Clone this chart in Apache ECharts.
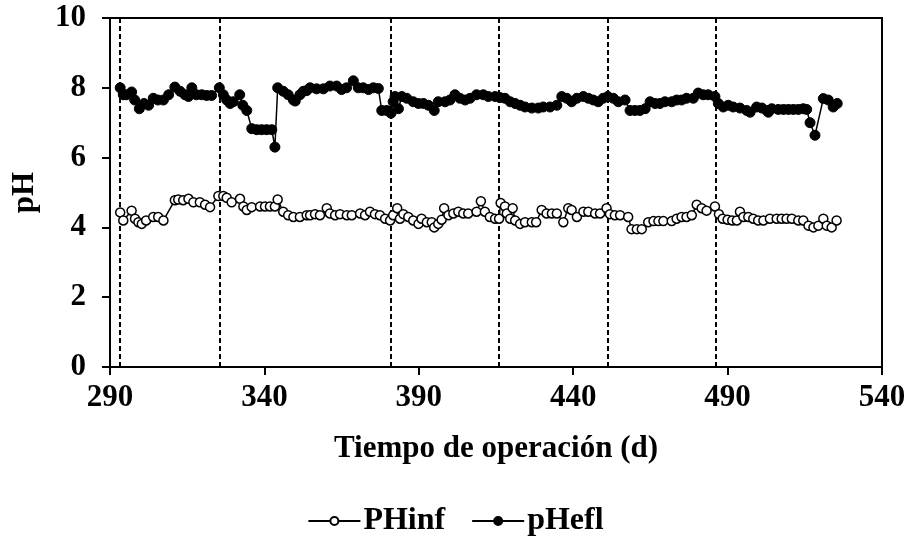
<!DOCTYPE html>
<html>
<head>
<meta charset="utf-8">
<title>pH</title>
<script src="https://cdn.jsdelivr.net/npm/echarts@6/dist/echarts.min.js"></script>
<style>
  html, body { margin: 0; padding: 0; background: #fff; }
  #chart { width: 911px; height: 544px; }
</style>
</head>
<body>
<div id="chart"></div>
<script>
// Influent pH (open markers)
var infDays = [293.3,294.3,297,298.1,299.2,300.3,301.7,304,305.6,307.3,311,312.1,313.7,315.4,317,319.1,320.8,322.4,325.1,326.7,327.8,329.4,332.1,333.2,334.3,335.9,338.6,340.2,341.8,343.4,344.3,346.1,347.7,349.4,351.5,353.7,354.8,356.4,358,360.2,361.2,362.9,364.5,366.7,368.3,371,372.6,374.2,375.8,377.4,379.1,380.7,381.7,383,383.9,385,386.6,388.2,389.9,390.9,392.6,394.2,395,396.3,397.4,398.2,399.6,401.2,402.8,404.4,406,408.7,410.1,411.4,413,414.7,416,416.5,417.9,418.5,419.6,420.4,421.2,422.8,424.4,426.6,428,429.8,431.4,433.1,434.7,436.8,438.4,439.5,441.2,443.3,444.9,447.1,448.7,450.8,451.9,453.5,455.2,457.8,458.9,460.6,462.2,464.3,466,467.6,469.2,471.9,473.5,475.1,476.7,478.4,480,481.6,483.2,485.9,487.2,488.4,490,491.5,493,494,495.1,496.7,498.3,499.9,501.6,503.7,505.9,507.5,509.1,510.8,512.9,514.5,516.2,517.8,519.4,521,522.1,523.7,525.3];
var infPH = [4.43,4.2,4.48,4.25,4.15,4.1,4.2,4.3,4.3,4.2,4.78,4.8,4.78,4.82,4.72,4.72,4.65,4.58,4.9,4.9,4.85,4.72,4.82,4.6,4.5,4.58,4.6,4.6,4.6,4.6,4.8,4.45,4.35,4.3,4.3,4.35,4.35,4.38,4.35,4.55,4.4,4.35,4.38,4.35,4.35,4.4,4.35,4.45,4.38,4.35,4.25,4.2,4.35,4.55,4.25,4.38,4.3,4.2,4.1,4.25,4.15,4.15,4.0,4.1,4.22,4.55,4.35,4.4,4.45,4.4,4.4,4.45,4.75,4.45,4.3,4.25,4.25,4.7,4.6,4.4,4.25,4.55,4.2,4.1,4.15,4.15,4.15,4.5,4.4,4.4,4.4,4.15,4.55,4.5,4.3,4.45,4.45,4.4,4.4,4.55,4.38,4.35,4.35,4.3,3.95,3.95,3.95,4.15,4.18,4.18,4.18,4.18,4.25,4.3,4.3,4.35,4.65,4.55,4.48,4.6,4.38,4.25,4.22,4.2,4.2,4.45,4.3,4.3,4.25,4.2,4.2,4.25,4.25,4.25,4.25,4.25,4.2,4.2,4.05,4.0,4.05,4.25,4.05,4.0,4.2];

// Effluent pH (filled markers)
var eflDays = [293.3,294.3,295.3,297,298,299.5,301,302.5,304,305.5,307.3,309,311,312.7,314.3,315.4,316.5,318,319.7,321.3,322.9,325.4,326.7,327.8,328.9,329.9,332,333,334.3,335.9,337.5,339.1,340.7,342.4,343.4,344.3,346.1,347.7,349.4,350,351.5,352.6,353.7,354.8,356.9,359.1,361.2,363.4,365,366.6,368.8,370.4,372,373.7,375.3,376.9,378,379.6,381,381.7,382.3,383.4,384.5,386.1,388.2,389.9,391.5,393.1,395,396.3,398.5,400.1,401.7,403.3,405,406.6,408.7,410.9,412.5,414.7,416.3,417.9,419.6,421.2,422.8,424.4,426.6,428.7,430.3,432.5,434.7,436.3,437.9,439.5,441.2,443.3,444.9,446.5,448.1,449.7,451.2,453,454.6,456.8,458.4,460,461.6,463.3,464.9,466.5,468.1,469.7,471.9,473.5,475.1,476.7,478.9,480.5,482.1,483.7,485.9,487,488.6,490.2,491.8,494,496.2,497.3,499.4,501.1,502.7,503.2,504.3,506.4,508.1,509.7,511.3,512.9,514.5,515.6,516.7,518.3,521,522.6,524.2,525.5];
var eflPH = [8.0,7.8,7.8,7.88,7.65,7.4,7.55,7.5,7.7,7.65,7.65,7.8,8.02,7.9,7.8,7.75,8.0,7.8,7.8,7.78,7.78,8.0,7.8,7.65,7.55,7.6,7.8,7.5,7.35,6.83,6.8,6.8,6.8,6.8,6.3,8.0,7.9,7.8,7.65,7.62,7.8,7.9,7.92,8.0,7.97,7.97,8.05,8.05,7.95,8.0,8.2,8.0,8.0,7.95,8.0,7.98,7.35,7.35,7.27,7.6,7.75,7.4,7.75,7.7,7.6,7.55,7.55,7.5,7.35,7.6,7.6,7.65,7.8,7.7,7.65,7.7,7.8,7.8,7.75,7.75,7.72,7.7,7.6,7.55,7.5,7.45,7.42,7.42,7.45,7.45,7.5,7.75,7.7,7.6,7.7,7.75,7.7,7.65,7.6,7.7,7.75,7.7,7.6,7.65,7.35,7.35,7.35,7.4,7.6,7.55,7.55,7.6,7.6,7.65,7.65,7.7,7.7,7.85,7.8,7.8,7.75,7.55,7.45,7.5,7.45,7.42,7.35,7.3,7.45,7.42,7.35,7.3,7.4,7.38,7.38,7.38,7.38,7.38,7.4,7.38,7.0,6.64,7.69,7.65,7.45,7.55];

// Days marking changes of operating stage (dashed verticals)
var stageDays = [293.3, 325.4, 381, 416, 451.2, 486.1];

var xTicks = [290, 340, 390, 440, 490, 540];
var yTicks = [0, 2, 4, 6, 8, 10];

function pairs(xs, ys) {
  return xs.map(function (x, i) { return [x, ys[i]]; });
}

var FONT = 'Liberation Serif';
var chart = echarts.init(document.getElementById('chart'), null, { renderer: 'canvas' });

chart.setOption({
  animation: false,
  backgroundColor: '#ffffff',
  grid: {
    left: 110, right: 29, top: 18, bottom: 177,
    show: true, borderColor: '#000', borderWidth: 2, backgroundColor: 'transparent'
  },
  legend: {
    bottom: 2,
    left: 'center',
    itemWidth: 52,
    itemHeight: 10,
    itemGap: 26,
    textStyle: { fontFamily: FONT, fontWeight: 'bold', fontSize: 32, color: '#000', padding: [0, 0, 0, -2] },
    data: ['PHinf', 'pHefl']
  },
  xAxis: {
    type: 'value',
    min: xTicks[0], max: xTicks[xTicks.length - 1], interval: 50,
    name: 'Tiempo de operación (d)',
    nameLocation: 'middle',
    nameGap: 66,
    nameTextStyle: { fontFamily: FONT, fontWeight: 'bold', fontSize: 31, color: '#000' },
    axisLine: { show: true, lineStyle: { color: '#000', width: 2 } },
    axisTick: { show: true, length: 8, inside: false, lineStyle: { color: '#000', width: 2 } },
    axisLabel: { fontFamily: FONT, fontWeight: 'bold', fontSize: 31, color: '#000', margin: 15 },
    splitLine: { show: false }
  },
  yAxis: {
    type: 'value',
    min: yTicks[0], max: yTicks[yTicks.length - 1], interval: 2,
    name: 'pH',
    nameLocation: 'middle',
    nameGap: 70,
    nameTextStyle: { fontFamily: FONT, fontWeight: 'bold', fontSize: 31, color: '#000' },
    axisLine: { show: true, lineStyle: { color: '#000', width: 2 } },
    axisTick: { show: true, length: 8, inside: false, lineStyle: { color: '#000', width: 2 } },
    axisLabel: { fontFamily: FONT, fontWeight: 'bold', fontSize: 31, color: '#000', margin: 24 },
    splitLine: { show: false }
  },
  series: [
    {
      name: 'PHinf',
      type: 'line',
      data: pairs(infDays, infPH),
      symbol: 'circle',
      symbolSize: 9,
      showAllSymbol: true,
      lineStyle: { color: '#000', width: 1.5 },
      itemStyle: { color: '#fff', borderColor: '#000', borderWidth: 1.5 },
      z: 3
    },
    {
      name: 'pHefl',
      type: 'line',
      data: pairs(eflDays, eflPH),
      symbol: 'circle',
      symbolSize: 10,
      showAllSymbol: true,
      lineStyle: { color: '#000', width: 1.5 },
      itemStyle: { color: '#000', borderColor: '#000', borderWidth: 1 },
      z: 3,
      markLine: {
        silent: true,
        symbol: ['none', 'none'],
        label: { show: false },
        lineStyle: { color: '#000', type: [5, 3], width: 2 },
        data: stageDays.map(function (d) { return { xAxis: d }; }),
        z: 1
      }
    }
  ]
});
</script>
</body>
</html>
